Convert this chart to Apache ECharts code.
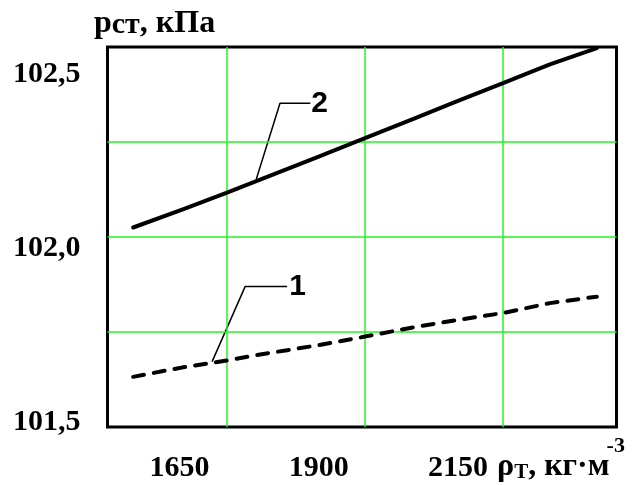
<!DOCTYPE html>
<html>
<head>
<meta charset="utf-8">
<script src="https://cdn.jsdelivr.net/npm/echarts@6/dist/echarts.min.js"></script>
<style>html,body{margin:0;padding:0;background:#fff}#c{width:637px;height:485px}</style>
</head>
<body>
<div id="c"></div>
<script>
// ---- data ----
const xValues = [1580, 1670, 1750, 1810, 1915, 2000, 2090, 2165, 2250, 2335, 2420];
const curve2 = [102.025, 102.073, 102.117, 102.151, 102.211, 102.260, 102.312, 102.356, 102.405, 102.454, 102.497];
const curve1 = [101.632, 101.657, 101.675, 101.691, 101.715, 101.738, 101.763, 101.781, 101.800, 101.826, 101.843];
const leader2X = [1803, 1846, 1901];
const leader2Y = [102.152, 102.352, 102.352];
const leader1X = [1723, 1783, 1859];
const leader1Y = [101.672, 101.870, 101.870];
const xTickLabels = [1650, 1900, 2150];
const yTickLabels = [101.5, 102.0, 102.5];
const xGridValues = [1750, 2000, 2250];
const yGridValues = [101.75, 102.0, 102.25];
const curveNames = ['1', '2'];

const zip = (xs, ys) => xs.map((x, i) => [x, ys[i]]);
const serif = 'Liberation Serif';
const sans = 'Liberation Sans';
const green = '#22f522';
const big = {fontFamily: serif, fontWeight: 'bold', fontSize: 32, color: '#000', lineHeight: 36, verticalAlign: 'bottom'};

const chart = echarts.init(document.getElementById('c'), null, {renderer: 'canvas'});
chart.setOption({
  animation: false,
  backgroundColor: '#fff',
  title: [
    {
      text: '{p|р}{s|ст}{p|, кПа}',
      left: 94, top: 4, padding: 0,
      textStyle: {rich: {
        p: big,
        s: Object.assign({}, big, {fontSize: 30, lineHeight: 35})
      }}
    },
    {
      text: '{r|ρ}{t|Т}{r|, кг·м}{e|-3}',
      left: 497, top: 435, padding: 0,
      textStyle: {rich: {
        r: Object.assign({}, big, {lineHeight: 48}),
        t: Object.assign({}, big, {fontSize: 21, lineHeight: 43}),
        e: Object.assign({}, big, {fontSize: 22, lineHeight: 22, verticalAlign: 'top', padding: [0, 0, 0, -3]})
      }}
    }
  ],
  grid: {left: 107.5, top: 47, width: 509, height: 380, show: true,
         borderWidth: 3, borderColor: '#000', backgroundColor: '#fff'},
  xAxis: [
    {type: 'value', min: 1533.5, max: 2455.6, gridIndex: 0,
     axisLine: {show: false}, axisTick: {show: false},
     axisLabel: {show: false}, splitLine: {show: false}},
    {type: 'value', min: 1520.7, max: 2434.6, gridIndex: 0, position: 'bottom',
     axisLine: {show: false}, axisTick: {show: false, customValues: xTickLabels},
     splitLine: {show: false},
     axisLabel: {show: true, customValues: xTickLabels, margin: 26,
       fontFamily: serif, fontWeight: 'bold', fontSize: 30, color: '#000',
       formatter: v => String(v)}}
  ],
  yAxis: [
    {type: 'value', min: 101.5, max: 102.5, gridIndex: 0,
     axisLine: {show: false}, axisTick: {show: false},
     axisLabel: {show: false}, splitLine: {show: false}},
    {type: 'value', min: 101.4856, max: 102.5776, gridIndex: 0, position: 'left',
     axisLine: {show: false}, axisTick: {show: false, customValues: yTickLabels},
     splitLine: {show: false},
     axisLabel: {show: true, customValues: yTickLabels, margin: 27,
       fontFamily: serif, fontWeight: 'bold', fontSize: 30, color: '#000',
       formatter: v => v.toFixed(1).replace('.', ',')}}
  ],
  series: [
    {type: 'line', name: 'grid', data: [], xAxisIndex: 0, yAxisIndex: 0, z: 1,
     markLine: {silent: true, symbol: 'none', animation: false,
       label: {show: false},
       lineStyle: {color: green, width: 1.5, type: 'solid', opacity: 1},
       emphasis: {disabled: true},
       data: xGridValues.map(v => ({xAxis: v})).concat(yGridValues.map(v => ({yAxis: v})))}},
    {type: 'line', name: curveNames[0], data: zip(xValues, curve1), xAxisIndex: 0, yAxisIndex: 0,
     showSymbol: false, symbol: 'none', z: 5,
     lineStyle: {color: '#000', width: 4, type: [11, 10], cap: 'round', join: 'round'}},
    {type: 'line', name: curveNames[1], data: zip(xValues, curve2), xAxisIndex: 0, yAxisIndex: 0,
     showSymbol: false, symbol: 'none', z: 5,
     lineStyle: {color: '#000', width: 4, cap: 'round', join: 'round'}},
    {type: 'line', name: 'leader2', data: zip(leader2X, leader2Y), xAxisIndex: 0, yAxisIndex: 0,
     showSymbol: false, symbol: 'none', z: 4,
     lineStyle: {color: '#000', width: 1.5},
     endLabel: {show: true, formatter: curveNames[1], distance: 1,
       fontFamily: sans, fontWeight: 'bold', fontSize: 30, color: '#000'}},
    {type: 'line', name: 'leader1', data: zip(leader1X, leader1Y), xAxisIndex: 0, yAxisIndex: 0,
     showSymbol: false, symbol: 'none', z: 4,
     lineStyle: {color: '#000', width: 1.5},
     endLabel: {show: true, formatter: curveNames[0], distance: 2,
       fontFamily: sans, fontWeight: 'bold', fontSize: 30, color: '#000'}}
  ]
});
</script>
</body>
</html>
